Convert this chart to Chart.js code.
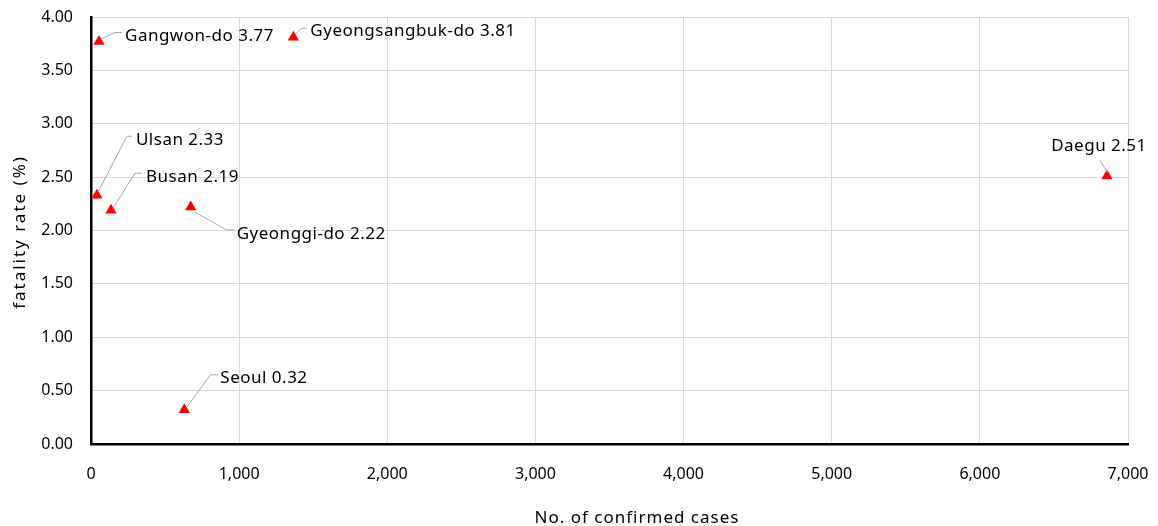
<!DOCTYPE html>
<html>
<head>
<meta charset="utf-8">
<script src="https://cdn.jsdelivr.net/npm/chart.js@4.4.1/dist/chart.umd.min.js"></script>
<style>
  html, body { margin: 0; padding: 0; background: #fff; }
  #wrap { width: 1158px; height: 526px; }
</style>
</head>
<body>
<div id="wrap"><canvas id="chart" width="1158" height="526"></canvas></div>
<script>
// Dados ------------------------------------------------------------------------
const regions = ["Seoul", "Busan", "Daegu", "Ulsan", "Gyeonggi-do", "Gangwon-do", "Gyeongsangbuk-do"];
const cases   = [630, 135, 6858, 40, 673, 54, 1366];
const rates   = [0.32, 2.19, 2.51, 2.33, 2.22, 3.77, 3.81];

const xTicks = [0, 1000, 2000, 3000, 4000, 5000, 6000, 7000];
const yTicks = [0, 0.5, 1, 1.5, 2, 2.5, 3, 3.5, 4];

const xTitle = "No. of confirmed cases";
const yTitle = "fatality rate (%)";

// Posição dos rótulos (offsets em px a partir do marcador)
const labelPos = {
  "Seoul":            { lead: [[2, -2], [26, -35], [34, -35]], text: [36, -32], align: "left" },
  "Busan":            { lead: [[2, -2], [24, -37], [31, -37]], text: [35, -33], align: "left" },
  "Daegu":            { lead: [[0, -4], [-7, -16]],            text: [-8, -30], align: "center" },
  "Ulsan":            { lead: [[1, -3], [30, -59], [35, -59]], text: [39, -55], align: "left" },
  "Gyeonggi-do":      { lead: [[4, 5], [36, 23], [44, 23]],    text: [46, 27],  align: "left" },
  "Gangwon-do":       { lead: [[3, -3], [16, -9], [23, -9]],   text: [26, -5],  align: "left" },
  "Gyeongsangbuk-do": { lead: [[3, -4], [8, -9], [13, -9]],    text: [17, -6],  align: "left" }
};

const FONT = "'Noto Sans', 'Open Sans', sans-serif";

// Plugin: rótulos com linha-guia + títulos dos eixos ---------------------------
const labelsPlugin = {
  id: "labels",
  afterDatasetsDraw(chart) {
    const ctx = chart.ctx;
    const xs = chart.scales.x, ys = chart.scales.y;
    ctx.save();
    regions.forEach((name, i) => {
      const px = xs.getPixelForValue(cases[i]);
      const py = ys.getPixelForValue(rates[i]);
      const p = labelPos[name];
      ctx.strokeStyle = "#a6a6a6";
      ctx.lineWidth = 1;
      ctx.beginPath();
      p.lead.forEach(([dx, dy], k) => {
        if (k === 0) ctx.moveTo(px + dx, py + dy);
        else ctx.lineTo(px + dx, py + dy);
      });
      ctx.stroke();
      ctx.fillStyle = "#000";
      ctx.font = "17px " + FONT;
      ctx.letterSpacing = "0.5px";
      ctx.textAlign = p.align;
      ctx.textBaseline = "middle";
      ctx.fillText(`${name} ${rates[i].toFixed(2)}`, px + p.text[0], py + p.text[1]);
    });

    // títulos dos eixos
    ctx.fillStyle = "#000";
    ctx.font = "17px " + FONT;
    ctx.letterSpacing = "1px";
    ctx.textAlign = "center";
    ctx.textBaseline = "middle";
    ctx.fillText(xTitle, 637, 518);
    ctx.translate(20, 232);
    ctx.rotate(-Math.PI / 2);
    ctx.letterSpacing = "2px";
    ctx.fillText(yTitle, 0, 0);
    ctx.restore();
  }
};

// Gráfico ----------------------------------------------------------------------
const ctx = document.getElementById("chart").getContext("2d");
new Chart(ctx, {
  type: "scatter",
  data: {
    datasets: [{
      data: cases.map((c, i) => ({ x: c, y: rates[i] })),
      pointStyle: "triangle",
      pointRadius: 6.5,
      pointBackgroundColor: "#ff0000",
      pointBorderWidth: 0
    }]
  },
  options: {
    responsive: false,
    animation: false,
    layout: { padding: { left: 0, right: 30, top: 17, bottom: 0 } },
    plugins: { legend: { display: false }, tooltip: { enabled: false } },
    scales: {
      x: {
        type: "linear",
        min: 0, max: 7000,
        afterBuildTicks: s => { s.ticks = xTicks.map(v => ({ value: v })); },
        afterFit: s => { s.height = 82; s.paddingLeft = 0; s.paddingRight = 0; },
        grid: { color: "#d9d9d9", lineWidth: 1, drawTicks: false },
        border: { color: "#000", width: 2.5 },
        ticks: {
          padding: 21,
          color: "#000",
          font: { family: FONT, size: 16 },
          maxRotation: 0,
          callback: v => v.toLocaleString("en-US")
        }
      },
      y: {
        type: "linear",
        min: 0, max: 4,
        afterBuildTicks: s => { s.ticks = yTicks.map(v => ({ value: v })); },
        afterFit: s => { s.width = 91; s.paddingTop = 0; s.paddingBottom = 0; },
        grid: { color: "#d9d9d9", lineWidth: 1, drawTicks: false },
        border: { color: "#000", width: 2.5 },
        ticks: {
          padding: 18,
          color: "#000",
          font: { family: FONT, size: 16 },
          callback: v => v.toFixed(2)
        }
      }
    }
  },
  plugins: [labelsPlugin]
});
</script>
</body>
</html>
